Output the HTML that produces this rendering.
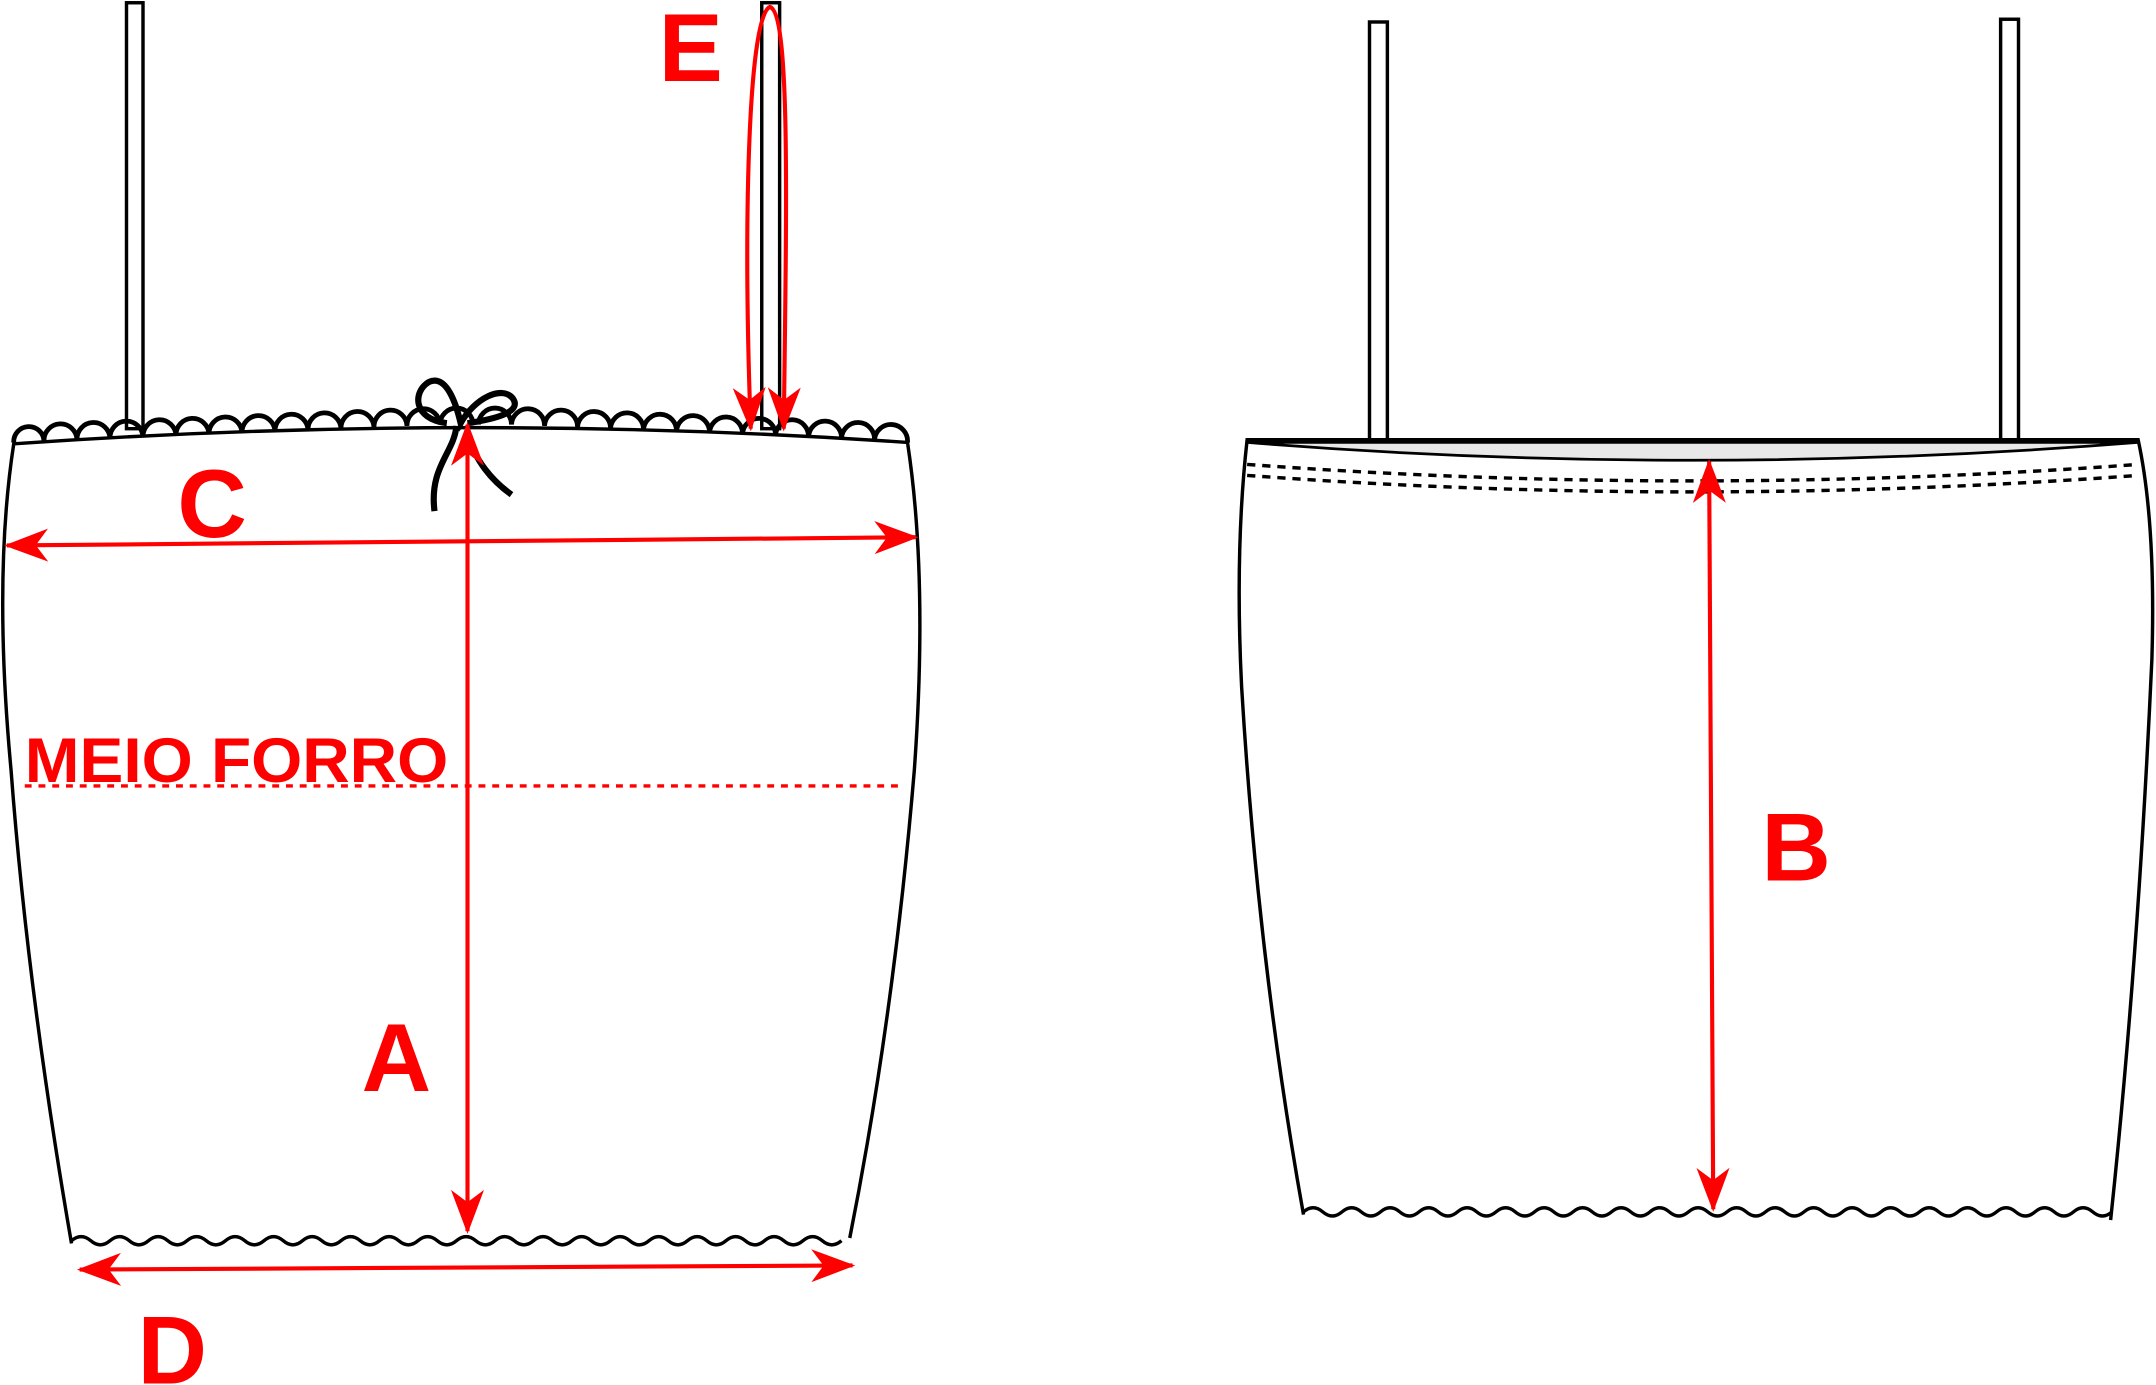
<!DOCTYPE html>
<html><head><style>html,body{margin:0;padding:0;background:#fff;}svg{display:block}</style></head>
<body>
<svg width="2156" height="1385" viewBox="0 0 1568 1008" preserveAspectRatio="none" xmlns="http://www.w3.org/2000/svg">
<defs>
<marker id="ah" viewBox="0 0 32 24" refX="30" refY="12" markerWidth="32" markerHeight="24" markerUnits="userSpaceOnUse" orient="auto-start-reverse">
<path d="M0,0 L32,12 L0,24 L9,12 Z" fill="#f00"/>
</marker>
</defs>
<g fill="#fff" stroke="#000" stroke-width="2.5">
<rect x="92" y="2" width="12" height="310"/>
<rect x="554" y="2" width="13" height="310"/>
<rect x="996" y="16" width="13" height="311"/>
<rect x="1455" y="14" width="13" height="312"/>
</g>
<path d="M10,323 Q340,300 660,322 Q675,420 665,560 Q650,740 618,900 L52,903 Q20,720 8,560 Q-5,420 10,323 Z" fill="#fff" stroke="none"/>
<path d="M52,905 Q20,720 8,560 Q-5,420 10,323 Q340,300 660,322 Q675,420 665,560 Q650,740 618,901" fill="none" stroke="#000" stroke-width="2.5"/>
<path d="M52,903 q7,-6 14,0 t14,0 t14,0 t14,0 t14,0 t14,0 t14,0 t14,0 t14,0 t14,0 t14,0 t14,0 t14,0 t14,0 t14,0 t14,0 t14,0 t14,0 t14,0 t14,0 t14,0 t14,0 t14,0 t14,0 t14,0 t14,0 t14,0 t14,0 t14,0 t14,0 t14,0 t14,0 t14,0 t14,0 t14,0 t14,0 t14,0 t14,0 t14,0 t14,0" fill="none" stroke="#000" stroke-width="2.5"/>
<path d="M10,322 a11,11 0 0 1 22,-1 a12,12 0 0 1 24,-1 a12,12 0 0 1 24,-1 a12,12 0 0 1 24,-1 a12,12 0 0 1 24,-1 a12,12 0 0 1 24,-1 a12,12 0 0 1 24,-1 a12,12 0 0 1 24,-1 a12,12 0 0 1 24,-1 a12,12 0 0 1 24,-1 a12,12 0 0 1 24,-1 a12,12 0 0 1 24,-1 a12,12 0 0 1 24,-1 a12,12 0 0 1 24,0 M348,309 a12,12 0 0 1 24,0 a12,12 0 0 1 24,1 a12,12 0 0 1 24,1 a12,12 0 0 1 24,1 a12,12 0 0 1 24,1 a12,12 0 0 1 24,1 a12,12 0 0 1 24,1 a12,12 0 0 1 24,1 a12,12 0 0 1 24,1 a12,12 0 0 1 24,1 a12,12 0 0 1 24,1 a12,12 0 0 1 24,1 a12,12 0 0 1 24,2" fill="none" stroke="#000" stroke-width="3.5"/>
<path d="M325,308 C300,305 300,285 312,278 C325,272 332,295 335,308 C345,290 365,280 373,290 C380,300 360,305 340,308" fill="none" stroke="#000" stroke-width="4.5"/>
<path d="M332,310 C330,330 312,340 316,372" fill="none" stroke="#000" stroke-width="4.5"/>
<path d="M340,315 C345,335 358,350 372,360" fill="none" stroke="#000" stroke-width="4.5"/>
<path d="M907,320 L1555,320 Q1568,380 1565,480 Q1555,700 1535,887 L948,882 Q915,700 903,500 Q898,400 907,320 Z" fill="#fff" stroke="none"/>
<path d="M948,884 Q915,700 903,500 Q898,400 907,320 L1555,320 Q1568,380 1565,480 Q1555,700 1535,888" fill="none" stroke="#000" stroke-width="2.5"/>
<path d="M907,322 Q1230,348 1555,322 Z" fill="#e8e8e8" stroke="#000" stroke-width="2"/>
<path d="M907,338 Q1230,362 1555,338 M907,346 Q1230,370 1555,346" fill="none" stroke="#000" stroke-width="2.5" stroke-dasharray="6,5"/>
<path d="M948,882 q7,-6 14,0 t14,0 t14,0 t14,0 t14,0 t14,0 t14,0 t14,0 t14,0 t14,0 t14,0 t14,0 t14,0 t14,0 t14,0 t14,0 t14,0 t14,0 t14,0 t14,0 t14,0 t14,0 t14,0 t14,0 t14,0 t14,0 t14,0 t14,0 t14,0 t14,0 t14,0 t14,0 t14,0 t14,0 t14,0 t14,0 t14,0 t14,0 t14,0 t14,0 t14,0 t14,0" fill="none" stroke="#000" stroke-width="2.5"/>
<g stroke="#f00" stroke-width="3" fill="none">
<line x1="340" y1="309" x2="340" y2="896" marker-start="url(#ah)" marker-end="url(#ah)"/>
<line x1="5" y1="397" x2="666" y2="391" marker-start="url(#ah)" marker-end="url(#ah)"/>
<line x1="58" y1="924" x2="620" y2="921" marker-start="url(#ah)" marker-end="url(#ah)"/>
<line x1="1243" y1="336" x2="1246" y2="880" marker-start="url(#ah)" marker-end="url(#ah)"/>
<path d="M546,312 C540,150 545,10 560,5 C575,10 572,150 570,312" marker-start="url(#ah)" marker-end="url(#ah)"/>
<line x1="18" y1="572" x2="656" y2="572" stroke-width="2.5" stroke-dasharray="5,5"/>
</g>
<g fill="#f00" font-family="Liberation Sans, sans-serif" font-weight="bold">
<text x="129" y="391" font-size="70">C</text>
<text x="263" y="794" font-size="70">A</text>
<text x="100" y="1007" font-size="70">D</text>
<text x="479" y="59" font-size="70">E</text>
<text x="1281" y="641" font-size="70">B</text>
<text x="18" y="569" font-size="46" textLength="308" lengthAdjust="spacingAndGlyphs">MEIO FORRO</text>
</g>
</svg>
</body></html>
